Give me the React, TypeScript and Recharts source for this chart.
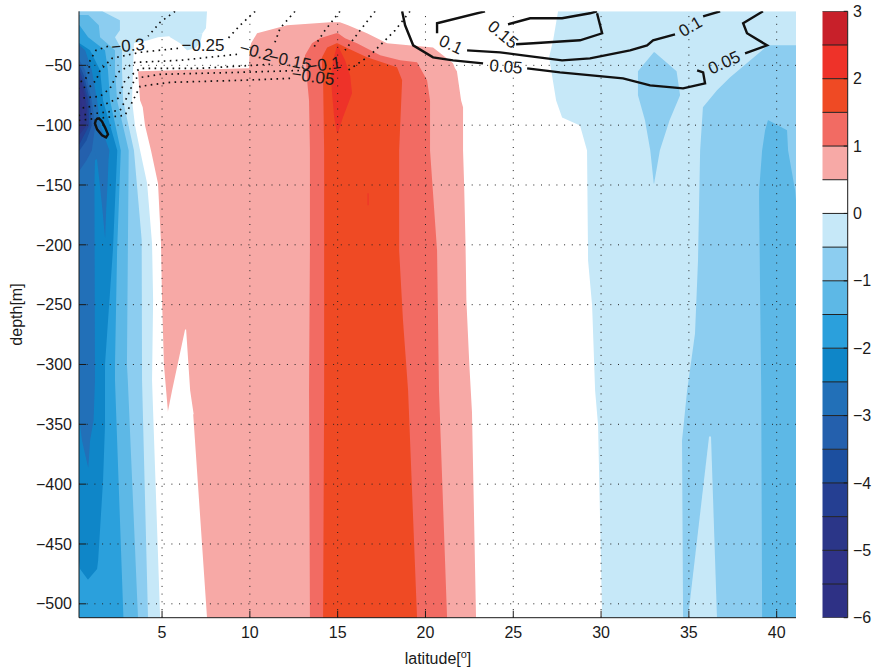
import {
  Area,
  ComposedChart,
  Line,
  ReferenceDot,
  ReferenceLine,
  XAxis,
  YAxis,
} from "recharts";

// [depth, west edge, east edge]
type Row = [number, number, number];
// [latitude, depth]
type Pt = [number, number];

const FONT = '"Liberation Sans", Arial, Helvetica, sans-serif';
const INK = "#1a1a1a";

const LAT_DOMAIN: [number, number] = [0.27, 41.1];
const DEPTH_DOMAIN: [number, number] = [-511.6, -4.85];
const LAT_TICKS = [5, 10, 15, 20, 25, 30, 35, 40];
const DEPTH_TICKS = [-500, -450, -400, -350, -300, -250, -200, -150, -100, -50];

// contour levels and the colour of each band between them (from -6 up)
const LEVELS = [-6, -5.5, -5, -4.5, -4, -3.5, -3, -2.5, -2, -1.5, -1, -0.5, 0, 0.5, 1, 1.5, 2, 2.5, 3];
const BAND_COLORS = [
  "#2e3185", "#2f3388", "#2b3688", "#253f92", "#1c4f9f", "#2460ad",
  "#2270b8", "#0f86c8", "#2ba0dc", "#5db8e6", "#8ccdf0", "#c6e8f8",
  "#ffffff", "#f7a9a6", "#f26b63", "#ef4a24", "#ee3229", "#c8202a",
];
const CBAR_TICKS = [-6, -5, -4, -3, -2, -1, 0, 1, 2, 3];

// ---- filled regions, one row per depth ----
const LB_LEFT: Row[] = [
  [-4.85, 0.27, 7.56], [-19.1, 0.27, 7.5], [-23.2, 0.27, 7.3], [-26.6, 0.27, 4.77],
  [-29.1, 0.27, 4.2], [-31.6, 0.27, 3.4], [-54.2, 0.27, 3.35], [-79.3, 0.27, 3.29],
  [-100.2, 0.27, 3.46], [-121.1, 0.27, 3.75], [-148.7, 0.27, 4.15], [-198.8, 0.27, 4.43],
  [-246.5, 0.27, 4.49], [-313.4, 0.27, 4.43], [-511.6, 0.27, 4.89],
];
const LB_SPIKE: Row[] = [
  [-23.2, 5.3, 7.3], [-26.6, 5.46, 7.25], [-31.6, 6.03, 7.16], [-35.8, 6.3, 6.9], [-37.5, 6.42, 6.45],
];
const LB_RIGHT: Row[] = [
  [-4.85, 27.55, 41.1], [-29.1, 27.27, 41.1], [-43.3, 27.04, 41.1], [-79.3, 27.44, 41.1],
  [-93.5, 27.78, 41.1], [-100.2, 28.8, 41.1], [-121.1, 29.2, 41.1], [-213, 29.26, 41.1],
  [-250.7, 29.49, 41.1], [-321.7, 29.66, 41.1], [-351, 29.83, 41.1], [-511.6, 30.06, 41.1],
];
const MB_LEFT: Row[] = [
  [-4.85, 0.27, 1.6], [-12.4, 0.27, 2.6], [-20.7, 0.27, 2.6], [-26.6, 0.27, 2.32],
  [-37.5, 0.27, 2.72], [-54.2, 0.27, 2.72], [-79.3, 0.27, 2.78], [-121.1, 0.27, 3.4],
  [-196, 0.27, 3.84], [-313.4, 0.27, 3.86], [-511.6, 0.27, 4.2],
];
const MB_RIGHT: Row[] = [
  [-33.3, 39.5, 41.1], [-60.0, 37.35, 41.1], [-70.9, 36.6, 41.1], [-85.1, 35.8, 41.1],
  [-121.1, 35.64, 41.1], [-213, 35.52, 41.1], [-274.1, 35.35, 41.1], [-321.7, 34.9, 41.1],
  [-363.5, 34.61, 41.1], [-511.6, 34.67, 41.1],
];
const MB_TONGUE_33: Row[] = [
  [-39.1, 33.0, 33.05], [-55, 32.1, 34.3], [-75, 32.1, 34.5], [-96, 32.5, 33.9],
  [-121, 32.8, 33.35], [-148.7, 33.0, 33.02],
];
const LB_WEDGE_36: Row[] = [[-360.2, 36.15, 36.26], [-511.6, 34.95, 36.6]];
const B100_RIGHT: Row[] = [
  [-96, 39.5, 39.53], [-104.3, 39.34, 40.59], [-121.1, 39.17, 40.65], [-154.5, 39.0, 41.05],
  [-162.9, 39.0, 41.1], [-246.5, 39.06, 41.1], [-321.7, 39.12, 41.1], [-511.6, 39.17, 41.1],
];
const B100_LEFT: Row[] = [
  [-8, 0.27, 0.8], [-16.6, 0.27, 1.4], [-26.6, 0.27, 1.47], [-37.5, 0.27, 2.32],
  [-54.2, 0.27, 2.32], [-79.3, 0.27, 2.44], [-121.1, 0.27, 3.1], [-300, 0.27, 3.0],
  [-313.4, 0.27, 3.05], [-511.6, 0.27, 3.63],
];
const B150: Row[] = [
  [-16.6, 0.27, 0.3], [-26.6, 0.27, 0.79], [-37.5, 0.27, 1.75], [-54.2, 0.27, 1.92],
  [-79.3, 0.27, 2.04], [-121.1, 0.27, 2.65], [-204.7, 0.27, 2.44], [-300, 0.27, 2.32],
  [-313.4, 0.27, 2.32], [-511.6, 0.27, 2.8],
];
const B200: Row[] = [
  [-31.6, 0.27, 0.3], [-37.5, 0.27, 0.9], [-54.2, 0.27, 1.47], [-79.3, 0.27, 1.64],
  [-121.1, 0.27, 2.45], [-204.7, 0.27, 2.2], [-300, 0.27, 1.75], [-351, 0.27, 1.75],
  [-397, 0.27, 1.64], [-463.9, 0.27, 1.36], [-471, 0.33, 1.3], [-479.7, 0.77, 0.79],
];
const B250: Row[] = [
  [-33.3, 0.27, 0.3], [-37.5, 0.27, 0.62], [-54.2, 0.27, 1.0], [-79.3, 0.27, 1.3],
  [-100.2, 0.27, 1.5], [-121.1, 0.27, 2.0], [-129.4, 0.27, 1.18], [-148.7, 0.27, 1.15],
  [-313.4, 0.27, 1.18], [-346.8, 0.3, 1.1], [-363.5, 0.44, 0.9], [-386, 0.79, 0.8],
];
const B250_TONGUE: Row[] = [
  [-121.1, 1.15, 2.0], [-129.4, 1.3, 1.95], [-148.7, 1.45, 1.9], [-170, 1.6, 1.82], [-193.8, 1.75, 1.76],
];
const B300: Row[] = [
  [-45.8, 0.27, 0.3], [-54.2, 0.27, 0.62], [-79.3, 0.27, 1.0], [-100.2, 0.27, 1.2],
  [-121.1, 0.27, 1.0], [-129.4, 0.27, 0.7], [-137.8, 0.27, 0.3],
];
const B350: Row[] = [
  [-50, 0.27, 0.3], [-58.4, 0.27, 0.55], [-79.3, 0.27, 0.9], [-100.2, 0.27, 1.0],
  [-112.7, 0.27, 0.7], [-121.1, 0.27, 0.3],
];
const B400: Row[] = [
  [-54.2, 0.27, 0.3], [-62.5, 0.27, 0.5], [-79.3, 0.27, 0.8], [-100.2, 0.27, 0.85],
  [-110, 0.27, 0.5], [-116, 0.27, 0.3],
];
const B450: Row[] = [[-60, 0.27, 0.3], [-70, 0.27, 0.55], [-85, 0.27, 0.72], [-100.2, 0.27, 0.7], [-108, 0.27, 0.3]];
const B500: Row[] = [[-66, 0.27, 0.3], [-75, 0.27, 0.55], [-90, 0.27, 0.62], [-100, 0.27, 0.5], [-105, 0.27, 0.3]];
const B550: Row[] = [[-72, 0.27, 0.3], [-85, 0.27, 0.45], [-98, 0.27, 0.3]];

const PINK: Row[] = [
  [-14.0, 14.57, 15.13], [-16.6, 12.12, 15.59], [-23.2, 10.41, 16.67], [-31.6, 10.07, 17.81],
  [-35.0, 10.01, 20.43], [-48.3, 9.95, 21.57], [-52.5, 9.95, 21.68], [-55.0, 3.63, 21.79],
  [-79.3, 3.75, 22.03], [-85.1, 3.9, 22.14], [-100.2, 4.03, 22.14], [-121.1, 4.37, 22.14],
  [-148.7, 4.77, 22.2], [-198.8, 4.94, 22.28], [-246.5, 5.0, 22.33], [-300.8, 5.11, 22.5],
  [-340.1, 5.34, 22.65], [-341.0, 6.77, 22.65], [-511.6, 7.56, 22.88],
];
const WHITE_WEDGE: Row[] = [[-270.7, 6.31, 6.37], [-321.7, 5.57, 6.6], [-341.5, 5.3, 6.8]];
const SALMON: Row[] = [
  [-23.2, 14.91, 15.02], [-27.4, 13.99, 15.42], [-31.6, 13.54, 16.1], [-41.6, 13.14, 17.42],
  [-45.8, 13.14, 18.55], [-47.5, 13.2, 19.52], [-62.5, 13.26, 20.09], [-79.3, 13.37, 20.26],
  [-121.1, 13.42, 20.26], [-204.7, 13.42, 20.66], [-321.7, 13.37, 20.77], [-511.6, 13.42, 21.23],
];
const ORANGE: Row[] = [
  [-31.6, 14.94, 14.99], [-35.0, 14.4, 15.48], [-43.3, 14.11, 16.67], [-51.7, 14.11, 18.38],
  [-62.5, 14.17, 18.67], [-121.1, 14.23, 18.5], [-204.7, 14.23, 18.5], [-263.2, 14.23, 18.72],
  [-321.7, 14.23, 19.01], [-511.6, 14.17, 19.52],
];
const RED: Row[] = [
  [-33.3, 14.97, 15.0], [-45.8, 14.74, 15.42], [-58.4, 14.62, 15.71], [-73.4, 14.68, 15.82],
  [-93.5, 14.8, 15.3], [-106.9, 14.97, 15.0],
];
const RED_SLIVER: Row[] = [[-157, 16.7, 16.76], [-167, 16.7, 16.76]];

// drawing order, band = index into BAND_COLORS
const SHADING: { band: number; rows: Row[] }[] = [
  { band: 11, rows: LB_LEFT }, { band: 11, rows: LB_SPIKE }, { band: 11, rows: LB_RIGHT },
  { band: 10, rows: MB_LEFT }, { band: 10, rows: MB_RIGHT }, { band: 10, rows: MB_TONGUE_33 },
  { band: 11, rows: LB_WEDGE_36 }, { band: 9, rows: B100_RIGHT }, { band: 9, rows: B100_LEFT },
  { band: 8, rows: B150 }, { band: 7, rows: B200 }, { band: 6, rows: B250 }, { band: 6, rows: B250_TONGUE },
  { band: 5, rows: B300 }, { band: 4, rows: B350 }, { band: 3, rows: B400 }, { band: 2, rows: B450 },
  { band: 1, rows: B500 }, { band: 0, rows: B550 },
  { band: 13, rows: PINK }, { band: 12, rows: WHITE_WEDGE }, { band: 14, rows: SALMON },
  { band: 15, rows: ORANGE }, { band: 16, rows: RED }, { band: 16, rows: RED_SLIVER },
];

// ---- overlaid contour lines (broken where labels sit) ----
const NEG_LINES: Pt[][] = [
  [[5.74, -4.85], [4.89, -14.05], [4.2, -25.75]],
  [[1.92, -34.11], [1.24, -37.46], [0.9, -45.82], [0.79, -58.36], [0.56, -62.54], [0.27, -64.21]],
  [[10.3, -4.85], [9.44, -16.56], [8.76, -27.42]],
  [[5.91, -35.79], [3.75, -39.13], [2.15, -44.15], [1.47, -54.18], [1.24, -62.54], [0.9, -67.56], [0.27, -69.23]],
  [[12.57, -4.85], [11.72, -19.06], [11.43, -30.77]],
  [[9.27, -40.8], [6.03, -45.82], [3.46, -47.49], [2.49, -55.85], [2.04, -69.23], [1.47, -75.92], [0.27, -77.59]],
  [[15.13, -4.85], [14.28, -20.74], [13.6, -35.79]],
  [[11.15, -49.16], [7.16, -52.51], [3.75, -52.51], [2.89, -62.54], [2.49, -77.59], [1.75, -82.61], [0.27, -85.95]],
  [[17.13, -4.85], [16.28, -20.74], [15.42, -37.46]],
  [[13.14, -54.18], [9.44, -55.85], [4.89, -57.53], [3.46, -60.87], [3.06, -75.08], [2.61, -87.63], [0.27, -91.81]],
  [[19.12, -4.85], [18.27, -20.74], [16.85, -41.64], [15.42, -55.85]],
  [[12.29, -60.87], [9.44, -62.54], [5.46, -64.21], [3.75, -67.56], [3.35, -79.26], [2.89, -91.81], [0.27, -95.99]],
];
const POS_LINES: Pt[][] = [
  [[18.67, -4.85], [18.84, -16.56], [19.3, -33.28], [20.43, -43.31], [21.57, -45.82], [23.28, -48.33]],
  [[25.79, -52.51], [27.66, -55.85], [31.25, -60.87], [32.79, -66.72], [34.67, -69.23], [35.92, -65.05], [35.81, -55.85], [35.47, -54.18]],
  [[38.2, -39.97], [39.45, -33.28], [38.31, -23.24], [38.09, -14.88], [39.22, -4.85]],
  [[23.39, -4.85], [20.66, -14.88], [20.66, -23.24]],
  [[22.37, -37.46], [24.25, -39.13], [25.56, -41.64], [27.78, -45.82], [29.37, -44.15], [31.65, -37.46], [32.62, -33.28], [32.96, -29.1], [34.21, -24.08]],
  [[35.81, -9.03], [36.78, -4.85]],
  [[24.7, -15.72], [25.96, -10.7], [27.78, -10.7], [29.37, -6.52], [29.77, -4.85]],
  [[25.16, -32.44], [26.13, -31.61], [28.8, -29.1], [30.06, -23.24], [29.77, -6.52]],
  [[1.24, -95.15], [1.41, -94.31], [1.58, -96.82], [1.75, -101.84], [1.92, -107.69], [1.81, -110.2], [1.58, -108.53], [1.3, -103.51], [1.18, -98.49], [1.24, -95.15]],
];
const CONTOUR_LABELS: { text: string; lat: number; depth: number; angle: number }[] = [
  { text: "\u22120.3", lat: 3.06, depth: -33.28, angle: -5 },
  { text: "\u22120.25", lat: 7.33, depth: -33.28, angle: 0 },
  { text: "\u22120.2", lat: 10.36, depth: -38.29, angle: 15 },
  { text: "\u22120.15", lat: 12.29, depth: -45.82, angle: 12 },
  { text: "\u22120.1", lat: 14.23, depth: -49.16, angle: -8 },
  { text: "\u22120.05", lat: 13.6, depth: -59.2, angle: 8 },
  { text: "0.05", lat: 24.59, depth: -50.84, angle: 5 },
  { text: "0.05", lat: 37.0, depth: -47.49, angle: -25 },
  { text: "0.1", lat: 21.46, depth: -32.44, angle: 25 },
  { text: "0.1", lat: 35.07, depth: -17.39, angle: -30 },
  { text: "0.15", lat: 24.42, depth: -24.08, angle: 40 },
];

const toSpan = (rows: Row[]) => rows.map(([depth, west, east]) => ({ depth, span: [west, east] }));
const toPath = (pts: Pt[]) => pts.map(([lat, depth]) => ({ lat, depth }));
const fmt = (v: number) => (v < 0 ? `\u2212${-v}` : `${v}`);

const tickStyle = { fill: INK, fontSize: 16, fontFamily: FONT };

function MainPlot() {
  return (
    <ComposedChart
      width={872}
      height={669}
      layout="vertical"
      margin={{ top: 11.3, right: 76, bottom: 0, left: 0 }}
    >
      {SHADING.map((s, i) => (
        <Area
          key={`fill-${i}`}
          data={toSpan(s.rows)}
          dataKey="span"
          type="linear"
          fill={BAND_COLORS[s.band]}
          fillOpacity={1}
          stroke="none"
          dot={false}
          activeDot={false}
          isAnimationActive={false}
        />
      ))}

      {LAT_TICKS.map((t) => (
        <ReferenceLine key={`gx-${t}`} x={t} stroke="#222" strokeWidth={1} strokeDasharray="1 6.7" zIndex={150} />
      ))}
      {DEPTH_TICKS.map((t) => (
        <ReferenceLine key={`gy-${t}`} y={t} stroke="#222" strokeWidth={1} strokeDasharray="1 6.7" zIndex={150} />
      ))}

      {NEG_LINES.map((pts, i) => (
        <Line
          key={`neg-${i}`}
          data={toPath(pts)}
          dataKey="lat"
          type="linear"
          stroke="#111"
          strokeWidth={1.7}
          strokeDasharray="1.6 4.4"
          dot={false}
          activeDot={false}
          isAnimationActive={false}
        />
      ))}
      {POS_LINES.map((pts, i) => (
        <Line
          key={`pos-${i}`}
          data={toPath(pts)}
          dataKey="lat"
          type="linear"
          stroke="#111"
          strokeWidth={2.4}
          dot={false}
          activeDot={false}
          isAnimationActive={false}
        />
      ))}

      {CONTOUR_LABELS.map((l, i) => (
        <ReferenceDot
          key={`lbl-${i}`}
          x={l.lat}
          y={l.depth}
          r={0}
          fill="none"
          stroke="none"
          label={{ value: l.text, position: "center", angle: l.angle, fill: INK, fontSize: 17, fontFamily: FONT }}
        />
      ))}

      <XAxis
        type="number"
        domain={LAT_DOMAIN}
        ticks={LAT_TICKS}
        interval={0}
        allowDataOverflow
        height={51.3}
        tickSize={-7}
        tickMargin={16.3}
        tick={tickStyle}
        axisLine={{ stroke: INK }}
        tickLine={{ stroke: INK }}
      />
      <XAxis
        xAxisId="top"
        orientation="top"
        type="number"
        domain={LAT_DOMAIN}
        ticks={LAT_TICKS}
        interval={0}
        allowDataOverflow
        height={0}
        tickSize={-7}
        tick={false}
        axisLine={{ stroke: INK }}
        tickLine={{ stroke: INK }}
      />
      <YAxis
        type="number"
        dataKey="depth"
        domain={DEPTH_DOMAIN}
        ticks={DEPTH_TICKS}
        interval={0}
        reversed
        allowDataOverflow
        width={79}
        tickSize={-7}
        tickMargin={14}
        tick={tickStyle}
        tickFormatter={fmt}
        axisLine={{ stroke: INK }}
        tickLine={{ stroke: INK }}
      />
      <YAxis
        yAxisId="right"
        orientation="right"
        type="number"
        dataKey="depth"
        domain={DEPTH_DOMAIN}
        ticks={DEPTH_TICKS}
        interval={0}
        reversed
        allowDataOverflow
        width={0}
        tickSize={-7}
        tick={false}
        axisLine={{ stroke: INK }}
        tickLine={{ stroke: INK }}
      />
    </ComposedChart>
  );
}

function ColorBar() {
  return (
    <ComposedChart
      width={82}
      height={669}
      layout="vertical"
      margin={{ top: 11.3, right: 0, bottom: 51.3, left: 32.3 }}
    >
      {BAND_COLORS.map((c, i) => (
        <Area
          key={`cb-${i}`}
          data={[
            { v: LEVELS[i], span: [0, 1] },
            { v: LEVELS[i + 1], span: [0, 1] },
          ]}
          dataKey="span"
          type="linear"
          fill={c}
          fillOpacity={1}
          stroke="none"
          dot={false}
          activeDot={false}
          isAnimationActive={false}
        />
      ))}
      {LEVELS.map((lv) => (
        <Line
          key={`cbl-${lv}`}
          data={[
            { v: lv, x: 0 },
            { v: lv, x: 1 },
          ]}
          dataKey="x"
          type="linear"
          stroke="#222"
          strokeWidth={1}
          dot={false}
          activeDot={false}
          isAnimationActive={false}
        />
      ))}
      <XAxis type="number" domain={[0, 1]} hide allowDataOverflow />
      <YAxis
        type="number"
        dataKey="v"
        domain={[-6, 3]}
        ticks={CBAR_TICKS}
        interval={0}
        reversed
        allowDataOverflow
        width={0}
        tickSize={-4}
        tick={false}
        axisLine={{ stroke: INK }}
        tickLine={{ stroke: INK }}
      />
      <YAxis
        yAxisId="cb"
        orientation="right"
        type="number"
        dataKey="v"
        domain={[-6, 3]}
        ticks={CBAR_TICKS}
        interval={0}
        reversed
        allowDataOverflow
        width={24.3}
        tickSize={-4}
        tickMargin={9.3}
        tick={tickStyle}
        tickFormatter={fmt}
        axisLine={{ stroke: INK }}
        tickLine={{ stroke: INK }}
      />
    </ComposedChart>
  );
}

export default function App() {
  return (
    <div
      style={{
        position: "absolute",
        left: 0,
        top: 0,
        width: 872,
        height: 669,
        background: "#fff",
        fontFamily: FONT,
      }}
    >
      <div style={{ position: "absolute", left: 0, top: 0 }}>
        <MainPlot />
      </div>
      <div style={{ position: "absolute", left: 790, top: 0 }}>
        <ColorBar />
      </div>
      <svg
        width={872}
        height={669}
        style={{ position: "absolute", left: 0, top: 0, pointerEvents: "none" }}
      >
        <text x={438} y={664} textAnchor="middle" fontSize={16} fill={INK} fontFamily={FONT}>
          latitude[
          <tspan dy={-6} fontSize={11}>o</tspan>
          <tspan dy={6}>]</tspan>
        </text>
        <text
          transform="translate(22,314.5) rotate(-90)"
          textAnchor="middle"
          fontSize={16}
          fill={INK}
          fontFamily={FONT}
        >
          depth[m]
        </text>
      </svg>
    </div>
  );
}
